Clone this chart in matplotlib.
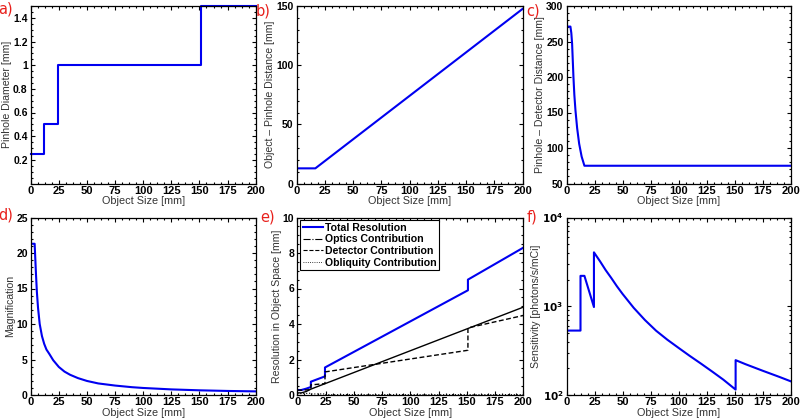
import matplotlib
matplotlib.use("Agg")
import matplotlib.pyplot as plt
from matplotlib.ticker import AutoMinorLocator, NullFormatter
from matplotlib.lines import Line2D

# ---------------- data ----------------
# a) pinhole diameter (step)
a_x = [0, 12, 24.5, 151, 200]
a_y = [0.25, 0.5, 1.0, 1.5, 1.5]

# b) object - pinhole distance
b_x = [0, 16.5, 200]
b_y = [12.8, 12.8, 147.5]

# c) pinhole - detector distance
c_x = [0, 3.5, 4.3, 5.0, 6.2, 7.0, 8.0, 9.5, 11.3, 13.5, 16.0, 200]
c_y = [271, 271, 262, 247, 200, 175, 153, 128, 106, 88, 75, 75]

# d) magnification
d_x = [0, 3.5, 4.0, 4.7, 5.5, 6.5, 8, 10, 12, 14, 16.5, 20, 25, 30, 35, 42,
       50, 60, 75, 90, 100, 125, 150, 175, 200]
d_y = [21.3, 21.3, 19.5, 17.0, 14.5, 12.3, 10.0, 8.3, 7.2, 6.4, 5.8, 4.9,
       3.95, 3.3, 2.85, 2.38, 1.98, 1.63, 1.33, 1.1, 0.99, 0.79, 0.66, 0.57,
       0.51]

# e) resolution in object space
e_tot_x = [0, 3.5, 8, 12, 12, 24.5, 24.5, 151, 151, 200]
e_tot_y = [0.28, 0.28, 0.36, 0.45, 0.75, 1.05, 1.55, 5.9, 6.5, 8.3]
e_opt_x = [0, 3.5, 12, 12, 24.5, 24.5, 151, 151, 200]
e_opt_y = [0.27, 0.27, 0.30, 0.57, 0.64, 1.30, 2.52, 3.78, 4.48]
e_det_x = [0, 3.5, 8, 12, 16, 25, 200]
e_det_y = [0.12, 0.12, 0.20, 0.33, 0.43, 0.65, 4.95]
e_obl_x = [0, 3.5, 12, 12, 24.5, 24.5, 200]
e_obl_y = [0.08, 0.08, 0.10, 0.06, 0.06, 0.02, 0.02]
e_labels = ["Total Resolution", "Optics Contribution",
            "Detector Contribution", "Obliquity Contribution"]

# f) sensitivity
f_x = [0, 12.5, 12.5, 16, 24.5, 24.5, 30, 35, 40, 45, 50, 60, 70, 80, 90,
       100, 110, 120, 130, 140, 151, 151, 160, 175, 190, 200]
f_y = [532, 532, 2200, 2200, 980, 4050, 3200, 2550, 2080, 1680, 1380, 960,
       700, 530, 420, 340, 276, 226, 184, 149, 115, 247, 222, 188, 160, 143]

x_ticks = [0, 25, 50, 75, 100, 125, 150, 175, 200]
panel_tags = ["a)", "b)", "c)", "d)", "e)", "f)"]
xlabel = "Object Size [mm]"
ylabels = ["Pinhole Diameter [mm]", "Object \u2013 Pinhole Distance [mm]",
           "Pinhole \u2013 Detector Distance [mm]", "Magnification",
           "Resolution in Object Space [mm]", "Sensitivity [photons/s/mCi]"]

# ---------------- figure ----------------
W, H = 800, 418
fig = plt.figure(figsize=(W / 100, H / 100), dpi=100)
plt.rcParams['font.family'] = ['Liberation Sans', 'DejaVu Sans']

BLUE = '#0000f0'
RED = '#e8201c'

def ax_at(l, r, t, b):
    return fig.add_axes([l / W, (H - b) / H, (r - l) / W, (b - t) / H])

boxes = [
    (30.7, 255.7, 6, 183.5),
    (296.7, 522.5, 6, 183.5),
    (566.5, 790.5, 6, 183.5),
    (30.7, 255.7, 217.5, 395),
    (297.3, 523.3, 217.5, 395),
    (566.5, 790.5, 217.5, 395),
]
tag_pos = [(-1.5, 13), (256, 15), (526, 15), (-1.5, 220), (260, 221),
           (527, 221)]

axes = []
for i, bx in enumerate(boxes):
    ax = ax_at(*bx)
    axes.append(ax)
    ax.set_xlim(0, 200)
    ax.set_xticks(x_ticks)
    ax.xaxis.set_minor_locator(AutoMinorLocator(4))
    ax.tick_params(which='both', direction='in', top=True, right=True,
                   width=0.8)
    ax.tick_params(axis='x', pad=1.5, labelsize=8.0)
    ax.tick_params(axis='y', pad=2.2, labelsize=7.5)
    ax.tick_params(which='major', length=3)
    ax.tick_params(which='minor', length=1.6)
    for s in ax.spines.values():
        s.set_linewidth(0.9)
    ax.set_xlabel(xlabel, fontsize=7.8, labelpad=0.3, color='#333333')
    ax.set_ylabel(ylabels[i], fontsize=7.6, labelpad=0.8, color='#333333')
    for lab in ax.get_xticklabels() + ax.get_yticklabels():
        lab.set_fontweight('bold')
    fig.text(tag_pos[i][0] / W, (H - tag_pos[i][1]) / H, panel_tags[i],
             color=RED, fontsize=10.5, family=['DejaVu Sans'],
             ha='left', va='baseline')

lw = 1.5
# a
ax = axes[0]
ax.plot(a_x, a_y, color=BLUE, lw=lw, drawstyle='steps-post', clip_on=False)
ax.set_ylim(0, 1.5)
ax.set_yticks([0.2, 0.4, 0.6, 0.8, 1.0, 1.2, 1.4])
ax.set_yticklabels(["0.2", "0.4", "0.6", "0.8", "1", "1.2", "1.4"],
                   fontweight='bold')
ax.yaxis.set_minor_locator(AutoMinorLocator(4))

# b
ax = axes[1]
ax.plot(b_x, b_y, color=BLUE, lw=lw)
ax.set_ylim(0, 150)
ax.set_yticks([0, 50, 100, 150])
ax.yaxis.set_minor_locator(AutoMinorLocator(5))

# c
ax = axes[2]
ax.plot(c_x, c_y, color=BLUE, lw=lw)
ax.set_ylim(50, 300)
ax.set_yticks([50, 100, 150, 200, 250, 300])
ax.yaxis.set_minor_locator(AutoMinorLocator(5))

# d
ax = axes[3]
ax.plot(d_x, d_y, color=BLUE, lw=lw)
ax.set_ylim(0, 25)
ax.set_yticks([0, 5, 10, 15, 20, 25])
ax.yaxis.set_minor_locator(AutoMinorLocator(5))

# e
ax = axes[4]
ax.plot(e_tot_x, e_tot_y, color=BLUE, lw=lw)
ax.plot(e_opt_x, e_opt_y, color='black', lw=1.0, ls=(0, (3.5, 1.8)))
ax.plot(e_det_x, e_det_y, color='black', lw=1.0, ls='-')
ax.plot(e_obl_x, e_obl_y, color='black', lw=0.8, ls=':')
ax.set_ylim(0, 10)
ax.set_yticks([0, 2, 4, 6, 8, 10])
ax.yaxis.set_minor_locator(AutoMinorLocator(4))
handles = [Line2D([], [], color=BLUE, lw=lw),
           Line2D([], [], color='black', lw=0.8, ls='-.'),
           Line2D([], [], color='black', lw=0.8, ls='--'),
           Line2D([], [], color='black', lw=0.6, ls=':')]
leg = ax.legend(handles, e_labels, loc='upper left',
                prop={'weight': 'bold', 'size': 7.6}, handlelength=1.9,
                handletextpad=0.2, borderpad=0.25, labelspacing=0.15,
                borderaxespad=0.25, fancybox=False, framealpha=1)
leg.get_frame().set_edgecolor('black')
leg.get_frame().set_linewidth(0.8)

# f
ax = axes[5]
ax.plot(f_x, f_y, color=BLUE, lw=lw)
ax.set_yscale('log')
ax.set_ylim(100, 10000)
ax.set_yticks([100, 1000, 10000])
ax.set_yticklabels([r"$\mathbf{10^{2}}$", r"$\mathbf{10^{3}}$",
                    r"$\mathbf{10^{4}}$"])
ax.tick_params(axis='y', which='minor', length=1.6)
ax.yaxis.set_minor_formatter(NullFormatter())

fig.savefig("out.png", dpi=100)
